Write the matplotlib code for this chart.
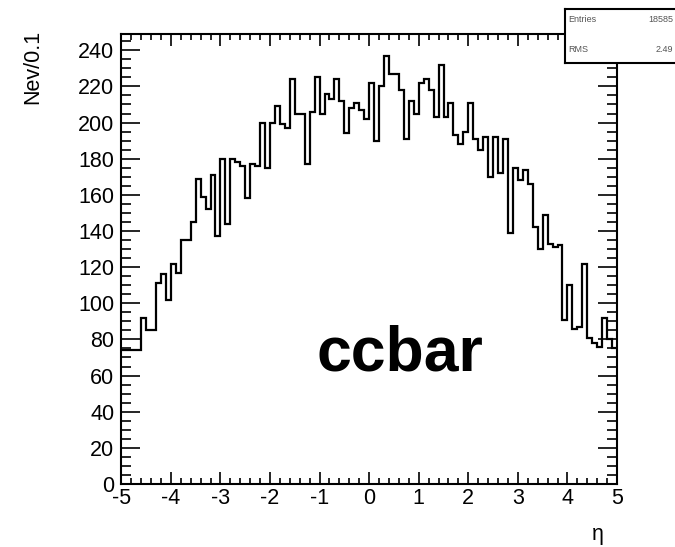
import matplotlib
matplotlib.use("Agg")
import matplotlib.pyplot as plt
import numpy as np
from matplotlib.ticker import MultipleLocator

plt.rcParams["font.family"] = ["Liberation Sans", "DejaVu Sans"]
plt.rcParams["axes.unicode_minus"] = False

# Histogram: eta from -5 to 5, bin width 0.1
bin_edges = np.round(np.arange(-5.0, 5.0001, 0.1), 2)
counts = [
    74, 74, 74, 74, 92, 85, 85, 111, 116, 102,
    122, 117, 135, 135, 145, 169, 159, 152, 171, 137,
    180, 144, 180, 178, 176, 158, 177, 176, 200, 175,
    200, 209, 199, 197, 224, 205, 205, 177, 206, 225,
    205, 216, 213, 224, 212, 194, 208, 211, 207, 202,
    222, 190, 220, 237, 227, 227, 218, 191, 212, 205,
    222, 224, 218, 203, 232, 203, 211, 193, 188, 195,
    211, 191, 185, 192, 170, 192, 172, 191, 139, 175,
    168, 174, 166, 142, 130, 149, 133, 131, 132, 91,
    110, 86, 87, 122, 81, 78, 76, 92, 80, 75,
]
stats_labels = ["Entries", "RMS"]
stats_values = ["18585", "2.49"]
x_label = "η"
y_label = "Nev/0.1"
sample_name = "ccbar"

W, H = 675, 547
fig = plt.figure(figsize=(W / 100, H / 100), dpi=100)

ax_l, ax_r, ax_t, ax_b = 121.3, 617.0, 34.0, 484.0
ax = fig.add_axes([ax_l / W, 1 - ax_b / H, (ax_r - ax_l) / W, (ax_b - ax_t) / H])
ax.stairs(counts, bin_edges, color="black", linewidth=1.6, baseline=None)
ax.set_xlim(-5, 5)
ax.set_ylim(0, 249)

ax.xaxis.set_major_locator(MultipleLocator(1))
ax.xaxis.set_minor_locator(MultipleLocator(0.2))
ax.yaxis.set_major_locator(MultipleLocator(20))
ax.yaxis.set_minor_locator(MultipleLocator(5))
ax.tick_params(which="both", direction="in", top=True, right=True,
               color="black", labelsize=15.5)
ax.tick_params(axis="y", which="major", length=13.5, width=1.2, pad=5)
ax.tick_params(axis="y", which="minor", length=7, width=1.2)
ax.tick_params(axis="x", which="major", length=8.6, width=1.2, pad=3)
ax.tick_params(axis="x", which="minor", length=4.3, width=1.2)
for s in ax.spines.values():
    s.set_linewidth(1.5)

ax.text(0.562, 0.253, sample_name, transform=ax.transAxes, ha="center",
        va="baseline", fontsize=45, fontweight="bold")

fig.text(33 / W, 1 - 30 / H, y_label, rotation=90, ha="center", va="top",
         fontsize=15.5)
fig.text(598 / W, 1 - 524 / H, x_label, ha="center", va="top", fontsize=15.5)

# stats box
bx0, bx1, by0, by1 = 565.0, 690.0, 9.0, 63.0
bax = fig.add_axes([bx0 / W, 1 - by1 / H, (bx1 - bx0) / W, (by1 - by0) / H])
bax.set_zorder(5)
bax.set_facecolor("white")
bax.set_xticks([])
bax.set_yticks([])
for s in bax.spines.values():
    s.set_linewidth(1.5)
ys = [1 - (20 - by0) / (by1 - by0), 1 - (50 - by0) / (by1 - by0)]
for lab, val, yy in zip(stats_labels, stats_values, ys):
    bax.text((568 - bx0) / (bx1 - bx0), yy, lab, transform=bax.transAxes,
             ha="left", va="center", fontsize=6.5, color="#555555")
    bax.text((673 - bx0) / (bx1 - bx0), yy, val, transform=bax.transAxes,
             ha="right", va="center", fontsize=6.5, color="#555555")

fig.savefig("out.png", dpi=100)
